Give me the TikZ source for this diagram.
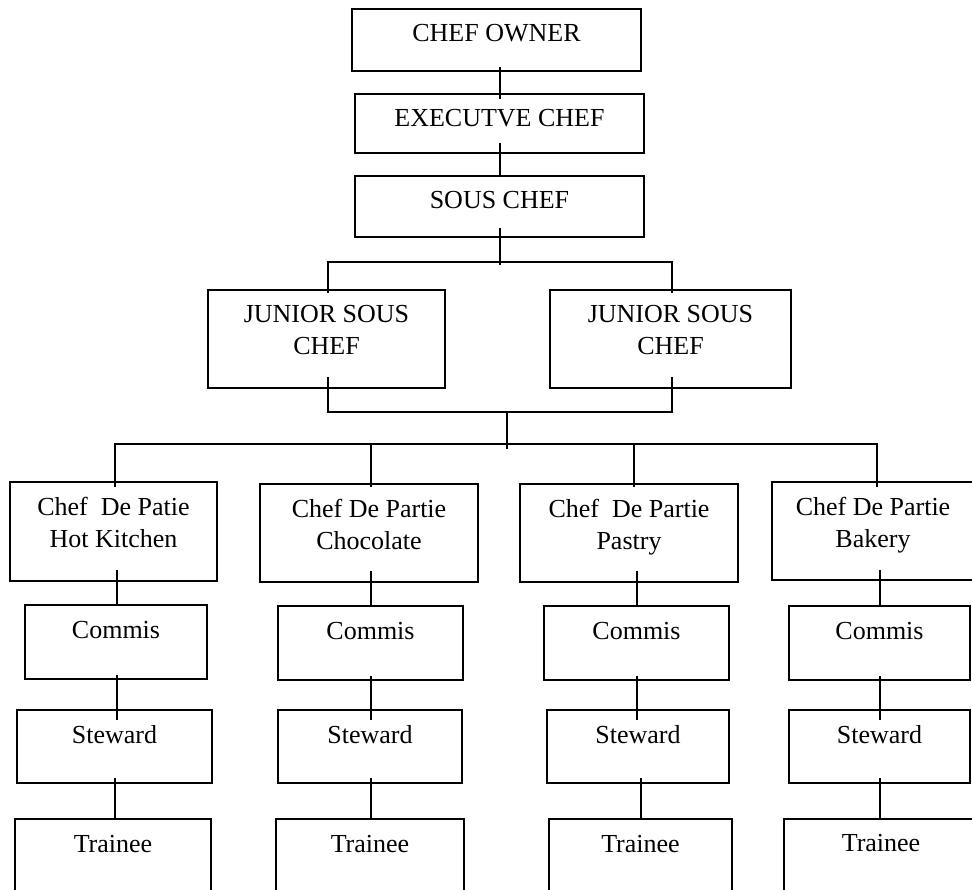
\documentclass[tikz,border=0pt]{standalone}
\usepackage{fontspec}
\setmainfont{Liberation Serif}
\usetikzlibrary{calc}
\tikzset{
  boxnode/.style={draw=black, line width=1.5pt, rectangle, inner sep=0pt, outer sep=0pt},
  lbl/.style={anchor=base, align=center, inner sep=0pt, font=\fontsize{26}{32}\selectfont},
  conn/.style={draw=black, line width=1.5pt}
}
% name, x1, y1, x2, y2
\newcommand\mybox[5]{%
  \node[boxnode, minimum width={(#4)-(#2)}, minimum height={(#5)-(#3)}] (#1) at ({(#2+#4)/2},{(#3+#5)/2}) {};}
% box name, text (one line)
\newcommand\mytext[2]{%
  \node[lbl] (#1t) at ($(#1.north)+(0,33)$) {#2};}
% box name, text (two lines; base is the last line)
\newcommand\mytextii[2]{%
  \node[lbl] (#1t) at ($(#1.north)+(0,65)$) {#2};}
\begin{document}
\begin{tikzpicture}[x=1pt,y=-1pt]
\useasboundingbox (0,0) rectangle (972,890);
\clip (0,0) rectangle (972,890);
% boxes
\mybox{co}{352}{9}{641}{71}
\mybox{ex}{355}{94}{644}{153}
\mybox{sc}{355}{176}{644}{237}
\mybox{ja}{208}{290}{445}{388}
\mybox{jb}{550}{290}{791}{388}
\mybox{ca}{10}{482}{217}{581}
\mybox{cb}{260}{484}{478}{582}
\mybox{cc}{520}{484}{738}{582}
\mybox{cd}{772}{482}{990}{580}
\mybox{ma}{25}{605}{207}{679}
\mybox{mb}{278}{606}{463}{680}
\mybox{mc}{544}{606}{729}{680}
\mybox{md}{789}{606}{970}{680}
\mybox{sa}{17}{710}{212}{783}
\mybox{sb}{278}{710}{462}{783}
\mybox{sd}{789}{710}{970}{783}
\mybox{sx}{547}{710}{729}{783}
\mybox{ta}{15}{819}{211}{910}
\mybox{tb}{276}{819}{464}{910}
\mybox{tc}{549}{819}{732}{910}
\mybox{td}{784}{819}{990}{910}
% texts
\mytext{co}{CHEF OWNER}
\mytext{ex}{EXECUTVE CHEF}
\mytext{sc}{SOUS CHEF}
\mytextii{ja}{JUNIOR SOUS\\CHEF}
\mytextii{jb}{JUNIOR SOUS\\CHEF}
\mytextii{ca}{Chef\ \ De Patie\\Hot Kitchen}
\mytextii{cb}{Chef De Partie\\Chocolate}
\mytextii{cc}{Chef\ \ De Partie\\Pastry}
\node[lbl] (cdt) at (873,547) {Chef De Partie\\Bakery};
\mytext{ma}{Commis}
\mytext{mb}{Commis}
\mytext{mc}{Commis}
\mytext{md}{Commis}
\mytext{sa}{Steward}
\mytext{sb}{Steward}
\mytext{sx}{Steward}
\mytext{sd}{Steward}
\mytext{ta}{Trainee}
\mytext{tb}{Trainee}
\mytext{tc}{Trainee}
\node[lbl] (tdt) at (881,851) {Trainee};
% junction coordinates
\coordinate (j1) at (500,262);
\coordinate (j2) at (507,412);
\coordinate (j3) at (507,444);
\coordinate (b1) at (115,444);
\coordinate (b2) at (371,444);
\coordinate (b3) at (634,444);
\coordinate (b4) at (877,444);
% top chain
\draw[conn] ([yshift=4pt]co.south -| 500,0) -- ([yshift=-5pt]ex.north -| 500,0);
\draw[conn] ([yshift=10pt]ex.south -| 500,0) -- (sc.north -| 500,0);
\draw[conn] ([yshift=9pt]sc.south -| 500,0) -- ([yshift=-3pt]j1);
% junior sous chefs
\draw[conn] ([yshift=-3pt]ja.north -| 328,0) |- (j1) -| ([yshift=-3pt]jb.north -| 672,0);
\draw[conn] ([yshift=11pt]ja.south -| 328,0) |- (j2) -| ([yshift=11pt]jb.south -| 672,0);
\draw[conn] (j2) -- ([yshift=-5pt]j3);
% chef de partie bar
\draw[conn] ([yshift=-5pt]ca.north -| b1) |- (j3) -| ([yshift=-5pt]cd.north -| b4);
\draw[conn] (b2) -- ([yshift=-3pt]cb.north -| b2);
\draw[conn] (b3) -- ([yshift=-3pt]cc.north -| b3);
% column 1
\draw[conn] ([yshift=11pt]ca.south -| 117,0) -- (ma.north -| 117,0);
\draw[conn] ([yshift=4pt]ma.south -| 117,0) -- ([yshift=-10pt]sa.north -| 117,0);
\draw[conn] ([yshift=5pt]sa.south -| 115,0) -- (ta.north -| 115,0);
% column 2
\draw[conn] ([yshift=11pt]cb.south -| 371,0) -- (mb.north -| 371,0);
\draw[conn] ([yshift=4pt]mb.south -| 371,0) -- ([yshift=-10pt]sb.north -| 371,0);
\draw[conn] ([yshift=5pt]sb.south -| 371,0) -- (tb.north -| 371,0);
% column 3
\draw[conn] ([yshift=11pt]cc.south -| 637,0) -- (mc.north -| 637,0);
\draw[conn] ([yshift=4pt]mc.south -| 637,0) -- ([yshift=-10pt]sx.north -| 637,0);
\draw[conn] ([yshift=5pt]sx.south -| 641,0) -- (tc.north -| 641,0);
% column 4
\draw[conn] ([yshift=10pt]cd.south -| 880,0) -- (md.north -| 880,0);
\draw[conn] ([yshift=4pt]md.south -| 880,0) -- ([yshift=-10pt]sd.north -| 880,0);
\draw[conn] ([yshift=5pt]sd.south -| 880,0) -- (td.north -| 880,0);
\end{tikzpicture}
\end{document}
